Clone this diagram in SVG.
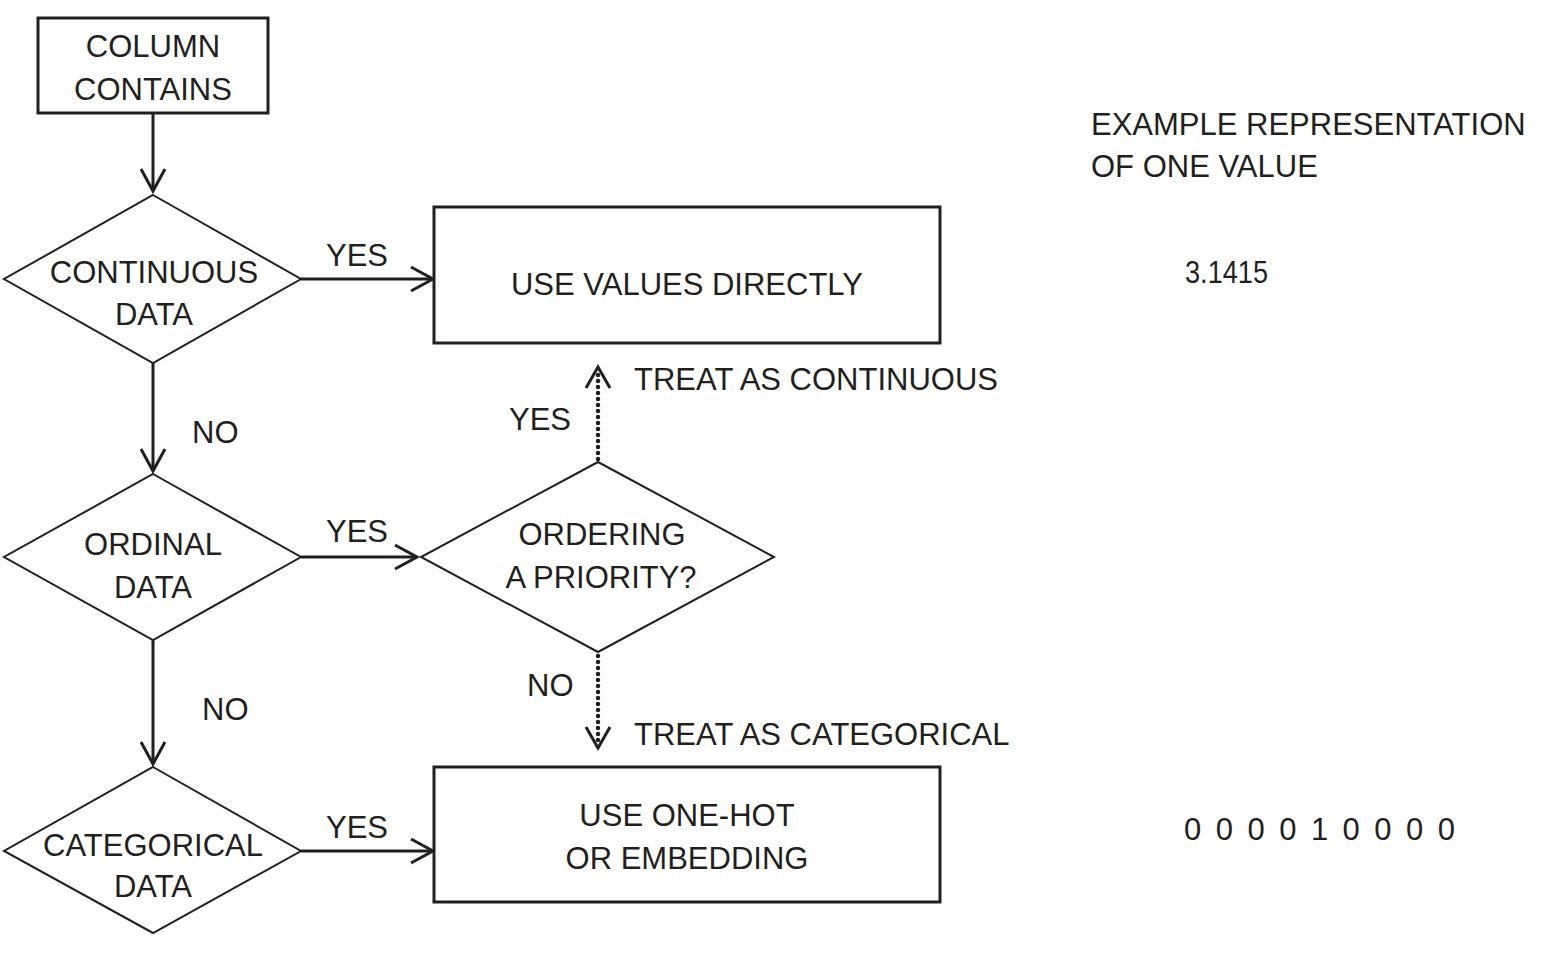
<svg xmlns="http://www.w3.org/2000/svg" width="1552" height="959" viewBox="0 0 1552 959">
<style>
  .box { fill: #fff; stroke: #231f20; stroke-width: 3; }
  .dia { fill: #fff; stroke: #231f20; stroke-width: 2; }
  .t { font-family: "Liberation Sans", Arial, sans-serif; font-size: 31px; fill: #231f20; text-anchor: middle; }
  .l { font-family: "Liberation Sans", Arial, sans-serif; font-size: 31px; fill: #231f20; }
  .edge { fill: none; stroke: #231f20; stroke-width: 3; }
  .dot { fill: none; stroke: #231f20; stroke-width: 4.5; stroke-linecap: round; stroke-dasharray: 0 6; }
</style>
<defs>
  <marker id="arr" markerUnits="userSpaceOnUse" viewBox="-26 -16 30 32" refX="0" refY="0" markerWidth="30" markerHeight="32" orient="auto" overflow="visible">
    <path d="M-22,-12 L0,0 L-22,12" fill="none" stroke="#231f20" stroke-width="3" stroke-linejoin="miter"/>
  </marker>
</defs>

<g id="connectors">
  <line class="edge" x1="153" y1="113" x2="153" y2="191" marker-end="url(#arr)"/>
  <line class="edge" x1="301" y1="279" x2="433" y2="279" marker-end="url(#arr)"/>
  <line class="edge" x1="153" y1="363" x2="153" y2="471" marker-end="url(#arr)"/>
  <line class="edge" x1="301" y1="557" x2="417" y2="557" marker-end="url(#arr)"/>
  <line class="edge" x1="153" y1="640" x2="153" y2="764" marker-end="url(#arr)"/>
  <line class="edge" x1="301" y1="851" x2="433" y2="851" marker-end="url(#arr)"/>
  <line class="dot" x1="598" y1="459" x2="598" y2="372"/>
  <path class="edge" d="M586,388 L598,367 L610,388"/>
  <line class="dot" x1="598" y1="656" x2="598" y2="742"/>
  <path class="edge" d="M586,727 L598,748 L610,727"/>
  <text class="l" x="326" y="266">YES</text>
  <text class="l" x="326" y="542">YES</text>
  <text class="l" x="326" y="838">YES</text>
  <text class="l" x="192" y="443">NO</text>
  <text class="l" x="202" y="720">NO</text>
  <text class="l" x="509" y="430">YES</text>
  <text class="l" x="527" y="696">NO</text>
  <text class="l" x="634" y="390">TREAT AS CONTINUOUS</text>
  <text class="l" x="634" y="745">TREAT AS CATEGORICAL</text>
</g>

<g id="column-contains">
  <rect class="box" x="38" y="18" width="230" height="95"/>
  <text class="t" x="153" y="57">COLUMN</text>
  <text class="t" x="153" y="100">CONTAINS</text>
</g>

<g id="continuous-data">
  <polygon class="dia" points="153,195 301,279 153,363 4,279"/>
  <text class="t" x="154" y="283">CONTINUOUS</text>
  <text class="t" x="154" y="325">DATA</text>
</g>

<g id="use-values-directly">
  <rect class="box" x="434" y="207" width="506" height="136"/>
  <text class="t" x="687" y="295">USE VALUES DIRECTLY</text>
</g>

<g id="ordinal-data">
  <polygon class="dia" points="153,474 301,557 153,640 4,557"/>
  <text class="t" x="153" y="555">ORDINAL</text>
  <text class="t" x="153" y="598">DATA</text>
</g>

<g id="ordering-priority">
  <polygon class="dia" points="598,462 774,557 598,652 421,557"/>
  <text class="t" x="602" y="545">ORDERING</text>
  <text class="t" x="601" y="588">A PRIORITY?</text>
</g>

<g id="categorical-data">
  <polygon class="dia" points="153,767 301,851 153,933 4,851"/>
  <text class="t" x="153" y="856">CATEGORICAL</text>
  <text class="t" x="153" y="897">DATA</text>
</g>

<g id="use-one-hot">
  <rect class="box" x="434" y="767" width="506" height="135"/>
  <text class="t" x="687" y="826">USE ONE-HOT</text>
  <text class="t" x="687" y="869">OR EMBEDDING</text>
</g>

<g id="examples">
  <text class="l" x="1091" y="135">EXAMPLE REPRESENTATION</text>
  <text class="l" x="1091" y="177">OF ONE VALUE</text>
  <text class="l" x="1185" y="283" textLength="83" lengthAdjust="spacingAndGlyphs">3.1415</text>
  <text class="l" x="1184" y="840" textLength="271" lengthAdjust="spacing">0 0 0 0 1 0 0 0 0</text>
</g>
</svg>
